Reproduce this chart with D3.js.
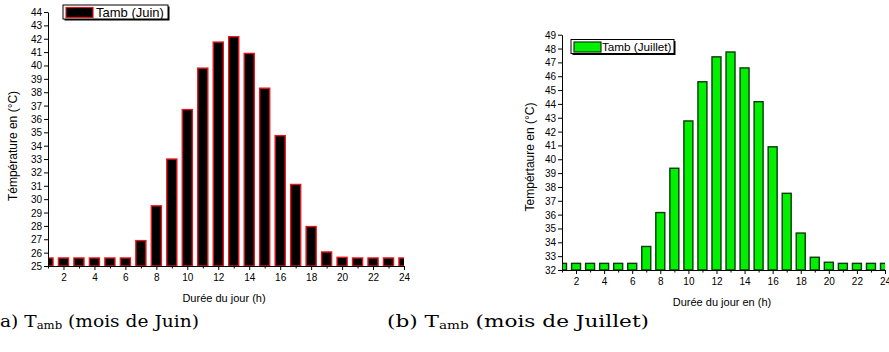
<!DOCTYPE html>
<html>
<head>
<meta charset="utf-8">
<script src="https://cdn.jsdelivr.net/npm/d3@7"></script>
<style>
  body { margin: 0; background: #fff; }
  svg { display: block; font-family: "Liberation Sans", Arial, sans-serif; }
  .tick text { font-size: 10px; fill: #000; }
  .tick line, .domain { stroke: #000; }
</style>
</head>
<body>
<svg width="889" height="352"></svg>
<script>
// hours of the day
var hours = [1, 2, 3, 4, 5, 6, 7, 8, 9, 10, 11, 12, 13, 14, 15, 16, 17, 18, 19, 20, 21, 22, 23, 24]
// ambient temperature, June
var tambJuin = [25.6, 25.6, 25.6, 25.6, 25.6, 25.6, 26.9, 29.5, 33.0, 36.7, 39.8, 41.75,
  42.15, 40.9, 38.3, 34.75, 31.1, 27.95, 26.05, 25.65, 25.6, 25.6, 25.6, 25.6]
// ambient temperature, July
var tambJuillet = [32.48, 32.48, 32.48, 32.48, 32.48, 32.48, 33.7, 36.15, 39.35, 42.77, 45.6, 47.4,
  47.75, 46.6, 44.16, 40.9, 37.54, 34.67, 32.92, 32.56, 32.48, 32.48, 32.48, 32.48]
var xTickLabels = [2, 4, 6, 8, 10, 12, 14, 16, 18, 20, 22, 24]
var yDomainJuin = [25, 44]
var yDomainJuillet = [32, 49]

var svg = d3.select('svg')

var drawChart = function(opt) {
  var x = d3.scaleLinear().domain([1, 24]).range([opt.left, opt.right])
  var y = d3.scaleLinear().domain(opt.yDomain).range([opt.bottom, opt.top])
  var bw = (x(2) - x(1)) * opt.barFrac

  svg.append('clipPath').attr('id', opt.id + '-clip')
    .append('rect')
    .attr('x', opt.left).attr('y', opt.top - 20)
    .attr('width', opt.right - opt.left).attr('height', opt.bottom - opt.top + 20)

  svg.append('g')
    .attr('clip-path', 'url(#' + opt.id + '-clip)')
    .selectAll('rect').data(opt.values).enter().append('rect')
    .attr('x', function(d, i) { return x(hours[i]) - bw / 2 })
    .attr('y', function(d) { return y(d) })
    .attr('width', bw)
    .attr('height', function(d) { return y(opt.yDomain[0]) - y(d) })
    .attr('fill', opt.fill)
    .attr('stroke', opt.stroke)
    .attr('stroke-width', 1.4)

  var yTicks = d3.range(opt.yDomain[0], opt.yDomain[1] + 1)
  svg.append('g')
    .attr('transform', 'translate(' + opt.left + ',0)')
    .call(d3.axisLeft(y).tickValues(yTicks).tickFormat(d3.format('d')).tickSize(4).tickSizeOuter(0).tickPadding(2))
    .call(function(g) { g.selectAll('.tick text').attr('dy', '0.35em') })

  svg.append('g')
    .attr('transform', 'translate(0,' + opt.bottom + ')')
    .call(d3.axisBottom(x).tickValues(hours).tickFormat(function(d) {
      return xTickLabels.indexOf(d) >= 0 ? d : ''
    }).tickSize(4).tickSizeOuter(0).tickPadding(4))
    .call(function(g) {
      g.selectAll('.tick').filter(function(d) { return d % 2 === 1 })
        .select('line').attr('y2', 2.5)
    })

  svg.append('text')
    .attr('transform', 'translate(' + opt.yTitleX + ',' + opt.yTitleY + ') rotate(-90)')
    .attr('text-anchor', 'middle')
    .attr('font-size', 12)
    .text(opt.yTitle)

  svg.append('text')
    .attr('x', opt.xTitleX).attr('y', opt.bottom + 36)
    .attr('text-anchor', 'middle')
    .attr('font-size', 11)
    .text(opt.xTitle)

  // legend
  var lg = svg.append('g').attr('transform', 'translate(' + opt.legend[0] + ',' + opt.legend[1] + ')')
  lg.append('rect').attr('x', 1.5).attr('y', 1.5).attr('width', opt.legendW).attr('height', 14)
    .attr('fill', '#000')
  lg.append('rect').attr('x', 0).attr('y', 0).attr('width', opt.legendW).attr('height', 14)
    .attr('fill', '#fff').attr('stroke', '#000').attr('stroke-width', 1)
  lg.append('rect').attr('x', 3).attr('y', 2.5).attr('width', 27).attr('height', 10)
    .attr('fill', opt.fill).attr('stroke', opt.stroke).attr('stroke-width', 1.2)
  lg.append('text').attr('x', opt.legendTextX).attr('y', 11.5).attr('font-size', opt.legendFont)
    .text(opt.legendText)

  // caption
  var cap = svg.append('text')
    .attr('x', opt.capX).attr('y', 327)
    .attr('font-family', '"DejaVu Serif", "Liberation Serif", serif')
    .attr('font-size', 17.5)
    .attr('textLength', opt.capW)
    .attr('lengthAdjust', 'spacingAndGlyphs')
  cap.append('tspan').text(opt.capPrefix + 'T')
  cap.append('tspan').attr('font-size', 11).attr('dy', 2).text('amb')
  cap.append('tspan').attr('dy', -2).text(' (mois de ' + opt.month + ')')
}

drawChart({
  id: 'juin', values: tambJuin, yDomain: yDomainJuin,
  left: 48, right: 404, top: 12, bottom: 266, barFrac: 0.65,
  fill: '#000', stroke: '#e8141a',
  yTitle: 'Témpérature en (°C)', yTitleX: 17, yTitleY: 146,
  xTitle: 'Durée du jour  (h)', xTitleX: 224,
  legend: [63, 5], legendW: 105, legendText: 'Tamb (Juin)', legendTextX: 33, legendFont: 13,
  capX: 0, capW: 199, capPrefix: 'a) ', month: 'Juin'
})

drawChart({
  id: 'juillet', values: tambJuillet, yDomain: yDomainJuillet,
  left: 562, right: 885, top: 34.7, bottom: 270, barFrac: 0.64,
  fill: '#00f000', stroke: '#0d3a0d',
  yTitle: 'Tempértaure en (°C)', yTitleX: 534, yTitleY: 157,
  xTitle: 'Durée du jour en  (h)', xTitleX: 722,
  legend: [571, 39.5], legendW: 103, legendText: 'Tamb (Juillet)', legendTextX: 31, legendFont: 11.7,
  capX: 387, capW: 262, capPrefix: '(b)  ', month: 'Juillet'
})
</script>
</body>
</html>
